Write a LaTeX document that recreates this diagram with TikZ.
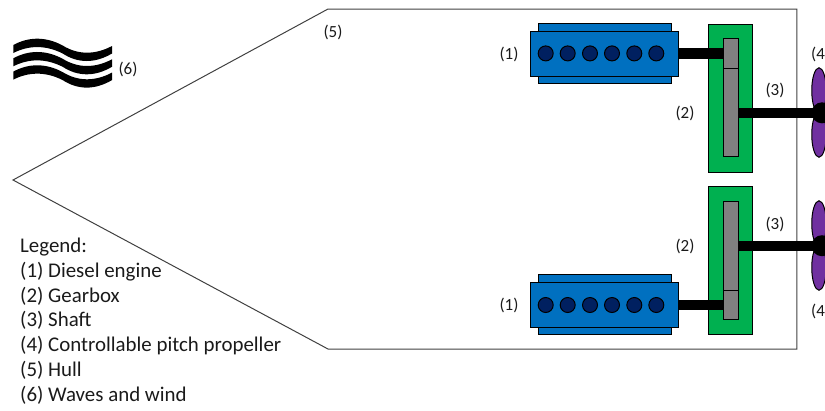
\documentclass[tikz,border=0pt]{standalone}
\usepackage{fontspec}
\setmainfont{Carlito}
\definecolor{enginecol}{HTML}{0070C0}
\definecolor{cylcol}{HTML}{002060}
\definecolor{gearcol}{HTML}{00B050}
\definecolor{propcol}{HTML}{7030A0}
\definecolor{txtcol}{HTML}{1A1A1A}
\tikzset{
  box/.style={draw=black,line width=1bp,rectangle,inner sep=0pt,outer sep=0pt},
  strip/.style={box,fill=enginecol,minimum width=133.5bp,minimum height=8bp},
  enginebox/.style={box,fill=enginecol,minimum width=148bp,minimum height=45bp},
  cyl/.style={draw=black,line width=1bp,circle,fill=cylcol,minimum size=15bp,inner sep=0pt},
  gearbox/.style={box,fill=gearcol,minimum width=44.5bp,minimum height=148bp},
  gearin/.style={box,fill=gray,minimum width=15bp,minimum height=118bp},
  shaft/.style={line width=10.3bp,draw=black},
  hubnode/.style={circle,fill=black,minimum size=21bp,inner sep=0pt},
  blade/.style={ellipse,draw=black,line width=1bp,fill=propcol,minimum width=14.5bp,minimum height=45.5bp,inner sep=0pt},
  hull/.style={draw=black!75,line width=1bp},
  lbl/.style={text=txtcol,font=\fontsize{17bp}{19bp}\selectfont,inner sep=0pt},
  legendtxt/.style={text=txtcol,font=\fontsize{20.9bp}{24.9bp}\selectfont,inner sep=0pt,align=left,anchor=north west},
}
\usetikzlibrary{shapes.geometric}
\begin{document}
\begin{tikzpicture}[x=1bp,y=-1bp]
\useasboundingbox (0,0) rectangle (825,410);
\clip (0,0) rectangle (825,410);
% hull
\draw[hull] (328,9) -- (796.8,9) -- (796.8,349) -- (328,349) -- (13,180) -- cycle;
% waves
\foreach \dy in {0,13.3,26.6}{
  \fill[black,yshift=-\dy bp] (13.3,45) .. controls (28,37) and (45,36) .. (62.7,45.5)
     .. controls (78,55) and (95,55) .. (112,46) -- (112,53.5)
     .. controls (95,63.5) and (78,63.5) .. (62.7,53.5)
     .. controls (45,44.5) and (28,45.5) .. (13.3,53) -- cycle;
}
% upper line
\node[strip] (st1) at (605,27.7) {};
\node[strip] (sb1) at (605,79.5) {};
\node[enginebox] (eng1) at (604.7,53.5) {};
\foreach \i/\x in {1/545.7,2/567.7,3/590,4/612,5/634.3,6/656.3}{
  \node[cyl] (c1\i) at (\x,53.4) {};
}
\node[gearbox] (gb1) at (730.7,98) {};
\node[gearin] (gi1) at (730.5,97.7) {};
\coordinate (dv1a) at (723,68.3);
\draw[line width=1bp] (dv1a) -- (dv1a -| gi1.east);
\node[blade] (pa1) at (819,90.5) {};
\node[blade] (pb1) at (819,134.5) {};
\node[hubnode] (hub1) at (822,112.8) {};
\draw[shaft] (eng1.east) -- (eng1.east -| gi1.west);
\draw[shaft] (gi1.east |- hub1) -- (hub1.center);
% lower line
\node[strip] (st2) at (605,278.7) {};
\node[strip] (sb2) at (605,330.5) {};
\node[enginebox] (eng2) at (604.7,304.8) {};
\foreach \i/\x in {1/545.7,2/567.7,3/590,4/612,5/634.3,6/656.3}{
  \node[cyl] (c2\i) at (\x,305) {};
}
\node[gearbox] (gb2) at (730.7,260.3) {};
\node[gearin] (gi2) at (730.5,260.3) {};
\coordinate (dv2a) at (723,290);
\draw[line width=1bp] (dv2a) -- (dv2a -| gi2.east);
\node[blade] (pa2) at (819,223.5) {};
\node[blade] (pb2) at (819,267.5) {};
\node[hubnode] (hub2) at (822,245.7) {};
\draw[shaft] (eng2.east) -- (eng2.east -| gi2.west);
\draw[shaft] (gi2.east |- hub2) -- (hub2.center);
% labels
\node[lbl] (l1a) at (509,54) {(1)};
\node[lbl] (l1b) at (509,305) {(1)};
\node[lbl] (l2a) at (685,113) {(2)};
\node[lbl] (l2b) at (685,246) {(2)};
\node[lbl] (l3a) at (775,90) {(3)};
\node[lbl] (l3b) at (775,224) {(3)};
\node[lbl,anchor=west] (l4a) at (811,54) {(4)};
\node[lbl,anchor=west] (l4b) at (811,311) {(4)};
\node[lbl] (l5) at (333,32) {(5)};
\node[lbl] (l6) at (128,69) {(6)};
\node[legendtxt] (legend) at (20,237.5) {Legend:\\(1) Diesel engine\\(2) Gearbox\\(3) Shaft\\(4) Controllable pitch propeller\\(5) Hull\\(6) Waves and wind};
\end{tikzpicture}
\end{document}
